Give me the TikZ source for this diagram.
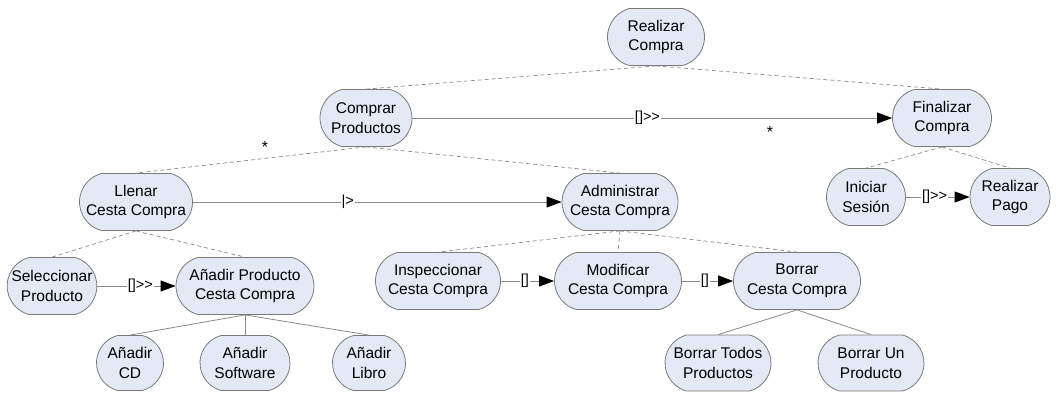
\documentclass[tikz,border=0pt]{standalone}
\usepackage{fontspec}
\setmainfont{Liberation Sans}
\usetikzlibrary{arrows.meta,shapes.misc}
\definecolor{taskfill}{HTML}{E4E9F6}
\definecolor{taskline}{HTML}{7A7A7A}
\definecolor{linkgray}{HTML}{8A8A8A}
\tikzset{
  task/.style={draw=taskline, fill=taskfill, line width=0.8pt, rounded rectangle,
    rounded rectangle arc length=150,
    align=center, inner sep=0pt, minimum height=57pt,
    font=\fontsize{15.5}{19.5}\selectfont},
  decomp/.style={draw=linkgray, line width=0.7pt, dash pattern=on 4pt off 3pt},
  refine/.style={draw=linkgray, line width=0.8pt},
  flow/.style={draw=linkgray, line width=1pt,
    arrows={-{Triangle[length=15pt,width=11pt,color=black]}}},
  oplabel/.style={fill=white, inner sep=1pt, font=\fontsize{14.5}{16}\selectfont},
  star/.style={font=\fontsize{16}{16}\selectfont, inner sep=0pt}
}
\begin{document}
\begin{tikzpicture}[x=1pt, y=-1pt]
\useasboundingbox (0,0) rectangle (1059,392);

% tasks
\node[task, minimum width=97pt]  (rc)  at (656,37)  {Realizar\\Compra};
\node[task, minimum width=92pt]  (cp)  at (366,118) {Comprar\\Productos};
\node[task, minimum width=99pt]  (fc)  at (942,118) {Finalizar\\Compra};
\node[task, minimum width=113pt] (ll)  at (136,202) {Llenar\\Cesta Compra};
\node[task, minimum width=116pt] (ad)  at (620,202) {Administrar\\Cesta Compra};
\node[task, minimum width=79pt]  (is)  at (866,197) {Iniciar\\Sesión};
\node[task, minimum width=80pt]  (rp)  at (1010,197) {Realizar\\Pago};
\node[task, minimum width=88pt]  (sp)  at (52,286)  {Seleccionar\\Producto};
\node[task, minimum width=138pt] (ap)  at (245,286) {Añadir Producto\\Cesta Compra};
\node[task, minimum width=125pt] (ic)  at (438,281) {Inspeccionar\\Cesta Compra};
\node[task, minimum width=127pt] (mc)  at (618,281) {Modificar\\Cesta Compra};
\node[task, minimum width=127pt] (bc)  at (797,281) {Borrar\\Cesta Compra};
\node[task, minimum width=67pt, minimum height=55pt]  (cd)  at (130,363) {Añadir\\CD};
\node[task, minimum width=90pt, minimum height=55pt]  (sw)  at (245,363) {Añadir\\Software};
\node[task, minimum width=73pt, minimum height=55pt]  (lb)  at (369,363) {Añadir\\Libro};
\node[task, minimum width=106pt, minimum height=56pt] (bt)  at (718,363) {Borrar Todos\\Productos};
\node[task, minimum width=106pt, minimum height=56pt] (bu)  at (871,363) {Borrar Un\\Producto};

% decompositions (dashed)
\draw[decomp] (rc.south) -- (cp.north);
\draw[decomp] (rc.south) -- (fc.north);
\draw[decomp] (cp.south) -- (ll.north);
\draw[decomp] (cp.south) -- (ad.north);
\draw[decomp] (fc.south) -- (is.north);
\draw[decomp] (fc.south) -- (rp.north);
\draw[decomp] (ll.south) -- (sp.north);
\draw[decomp] (ll.south) -- (ap.north);
\draw[decomp] (ad.south) -- (ic.north);
\draw[decomp] (ad.south) -- (mc.north);
\draw[decomp] (ad.south) -- (bc.north);

% refinements (solid)
\draw[refine] (ap.south) -- (cd.north);
\draw[refine] (ap.south) -- (sw.north);
\draw[refine] (ap.south) -- (lb.north);
\draw[refine] (bc.south) -- (bt.north);
\draw[refine] (bc.south) -- (bu.north);

% temporal operators
\draw[flow] (cp.east) -- node[oplabel, pos=0.49] (op1) {[]>\kern0pt>} (fc.west);
\draw[flow] (ll.east) -- node[oplabel, pos=0.42] (op2) {|>} (ad.west);
\draw[flow] (sp.east) -- node[oplabel, pos=0.55] (op3) {[]>\kern0pt>} (ap.west);
\draw[flow] (is.east) -- node[oplabel, pos=0.45] (op4) {[]>\kern0pt>} (rp.west);
\draw[flow] (ic.east) -- node[oplabel, pos=0.45] (op5) {[]} (mc.west);
\draw[flow] (mc.east) -- node[oplabel, pos=0.45] (op6) {[]} (bc.west);

% iteration marks
\node[star] (it1) at (265,147) {*};
\node[star] (it2) at (770,132) {*};
\end{tikzpicture}
\end{document}
